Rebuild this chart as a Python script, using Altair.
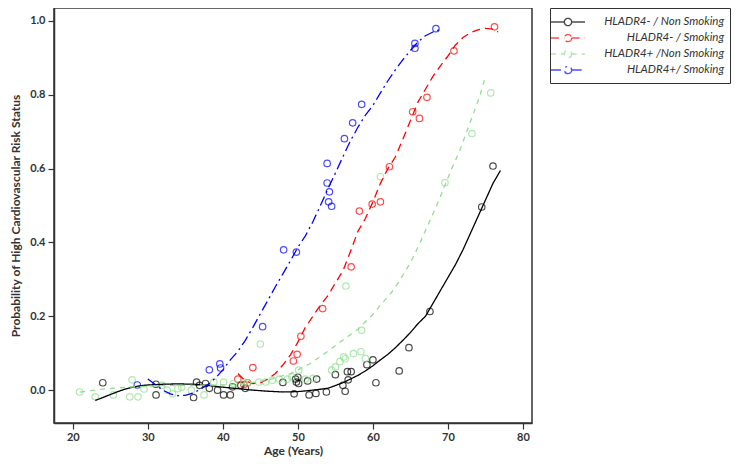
import altair as alt
import pandas as pd

series_names = ["HLADR4- / Non Smoking", "HLADR4- / Smoking", "HLADR4+ /Non Smoking", "HLADR4+/ Smoking"]
series_colors = ["#000000", "#ff0000", "#90e090", "#0000ff"]
series_dashes = [[1, 0], [8, 5], [5, 5], [10, 4, 2, 4]]

# Fitted curves
black_curve_age = [23, 24, 25, 26, 27, 28, 29, 30, 32, 34, 36, 38, 40, 42, 44, 46, 48, 50, 52, 54, 56, 57, 58, 59, 60, 61, 62, 63, 64, 65, 66, 67, 68, 69, 70, 71, 72, 73, 74, 75, 76, 77]
black_curve_p = [-0.028, -0.02, -0.012, -0.004, 0.003, 0.008, 0.012, 0.014, 0.016, 0.017, 0.016, 0.013, 0.008, 0.004, 0.0, -0.003, -0.005, -0.004, 0.0, 0.005, 0.02, 0.03, 0.04, 0.052, 0.066, 0.082, 0.097, 0.115, 0.135, 0.156, 0.18, 0.2, 0.235, 0.27, 0.305, 0.34, 0.38, 0.425, 0.47, 0.515, 0.56, 0.595]

red_curve_age = [42, 43, 44, 45, 46, 47, 48, 49, 50, 51, 52, 53, 54, 55, 56, 57, 58, 59, 60, 61, 62, 63, 64, 65, 66, 67, 68, 69, 70, 71, 72, 73, 74, 75, 76, 76.7]
red_curve_p = [0.045, 0.025, 0.018, 0.02, 0.03, 0.045, 0.068, 0.095, 0.13, 0.17, 0.2, 0.23, 0.256, 0.29, 0.323, 0.375, 0.43, 0.465, 0.51, 0.56, 0.6, 0.632, 0.68, 0.73, 0.78, 0.815, 0.85, 0.878, 0.905, 0.935, 0.955, 0.968, 0.976, 0.98, 0.978, 0.97]

green_curve_age = [21, 24, 28, 32, 36, 40, 43, 46, 49, 51.5, 54, 56.5, 58, 60, 61, 62.5, 63.6, 65, 66.3, 67.5, 68.5, 69.5, 70.5, 71.5, 72.5, 73.5, 74.3, 75]
green_curve_p = [-0.005, 0.003, 0.009, 0.012, 0.013, 0.014, 0.018, 0.027, 0.045, 0.07, 0.105, 0.143, 0.165, 0.205, 0.23, 0.265, 0.298, 0.345, 0.4, 0.455, 0.5, 0.55, 0.6, 0.645, 0.7, 0.755, 0.8, 0.85]

blue_curve_age = [30, 31, 32, 33, 34, 35, 36, 37, 38, 39, 40, 41, 42, 43, 44, 45, 46, 47, 48, 49, 50, 51, 52, 53, 54, 55, 56, 57, 58, 59, 60, 61, 62, 63, 64, 65, 66, 67, 68, 69]
blue_curve_p = [0.03, 0.015, 0.0, -0.01, -0.015, -0.014, -0.008, 0.002, 0.015, 0.032, 0.055, 0.082, 0.105, 0.135, 0.17, 0.207, 0.243, 0.28, 0.315, 0.35, 0.387, 0.418, 0.456, 0.5, 0.545, 0.588, 0.632, 0.675, 0.712, 0.745, 0.771, 0.805, 0.838, 0.868, 0.895, 0.92, 0.943, 0.96, 0.97, 0.977]

black_pt_age = [24.0, 31.1, 31.1, 36.1, 36.5, 36.9, 37.7, 38.2, 39.3, 40.1, 41.0, 41.3, 42.4, 43.0, 48.0, 49.5, 49.7, 49.8, 50.0, 50.1, 51.3, 51.5, 52.4, 52.5, 53.8, 55.0, 56.0, 56.3, 56.7, 56.6, 57.1, 59.2, 60.0, 60.4, 63.5, 64.8, 67.6, 74.5, 76.0]
black_pt_p = [0.020, 0.016, -0.013, -0.020, 0.022, 0.013, 0.018, 0.005, 0.0, -0.013, -0.013, 0.009, 0.013, 0.005, 0.021, -0.010, 0.030, 0.022, 0.035, 0.018, 0.025, -0.013, -0.009, 0.030, -0.005, 0.042, 0.013, -0.003, 0.028, 0.050, 0.050, 0.069, 0.082, 0.020, 0.052, 0.115, 0.213, 0.496, 0.607]

red_pt_age = [42.0, 42.8, 43.3, 44.0, 49.4, 49.9, 50.4, 53.3, 57.1, 58.2, 59.9, 61.0, 62.2, 65.3, 66.2, 67.2, 70.8, 76.2]
red_pt_p = [0.030, 0.015, 0.020, 0.061, 0.079, 0.097, 0.146, 0.221, 0.334, 0.485, 0.504, 0.510, 0.605, 0.754, 0.736, 0.793, 0.919, 0.984]

green_pt_age = [20.9, 23.0, 25.4, 27.9, 27.6, 28.7, 29.5, 31.9, 32.6, 33.3, 34.0, 34.5, 35.8, 37.5, 38.8, 40.1, 41.4, 42.8, 43.3, 44.8, 45.0, 45.7, 46.6, 47.5, 48.6, 49.2, 50.1, 51.0, 52.0, 54.5, 55.0, 55.6, 56.1, 56.3, 56.4, 57.4, 58.4, 58.5, 59.0, 61.0, 69.6, 73.2, 75.7]
green_pt_p = [-0.005, -0.018, -0.013, 0.028, -0.018, -0.018, 0.003, 0.013, 0.0, -0.010, 0.004, 0.008, 0.0, -0.013, 0.022, 0.022, 0.018, 0.022, 0.020, 0.022, 0.125, 0.022, 0.027, 0.030, 0.030, 0.036, 0.054, 0.030, 0.032, 0.054, 0.063, 0.077, 0.090, 0.085, 0.282, 0.099, 0.104, 0.162, 0.086, 0.578, 0.562, 0.695, 0.805]

blue_pt_age = [28.6, 38.2, 39.6, 39.7, 45.3, 48.1, 49.8, 53.9, 53.9, 54.2, 54.1, 54.5, 56.2, 57.3, 58.5, 65.6, 65.6, 68.4]
blue_pt_p = [0.014, 0.055, 0.071, 0.060, 0.172, 0.380, 0.374, 0.614, 0.561, 0.537, 0.510, 0.498, 0.681, 0.724, 0.774, 0.939, 0.926, 0.979]

curves = [(black_curve_age, black_curve_p), (red_curve_age, red_curve_p), (green_curve_age, green_curve_p), (blue_curve_age, blue_curve_p)]
points = [(black_pt_age, black_pt_p), (red_pt_age, red_pt_p), (green_pt_age, green_pt_p), (blue_pt_age, blue_pt_p)]

curve_rows = []
for name, (ages, ps) in zip(series_names, curves):
    for i, (a, p) in enumerate(zip(ages, ps)):
        curve_rows.append({"series": name, "age": a, "p": p, "order": i})
point_rows = []
for name, (ages, ps) in zip(series_names, points):
    for a, p in zip(ages, ps):
        point_rows.append({"series": name, "age": a, "p": p})

curve_df = pd.DataFrame(curve_rows)
point_df = pd.DataFrame(point_rows)

FONT = "Lato"
xscale = alt.Scale(domain=[17.5, 81.2], nice=False, zero=False)
yscale = alt.Scale(domain=[-0.089, 1.035], nice=False, zero=False)
cscale = alt.Scale(domain=series_names, range=series_colors)
dscale = alt.Scale(domain=series_names, range=series_dashes)

xaxis = alt.Axis(values=[20, 30, 40, 50, 60, 70, 80], title="Age (Years)", grid=False,
                 labelPadding=2, titlePadding=3)
yaxis = alt.Axis(values=[0.0, 0.2, 0.4, 0.6, 0.8, 1.0], format=".1f",
                 title="Probability of High Cardiovascular Risk Status", grid=False,
                 labelPadding=3, titlePadding=7)

legend = alt.Legend(title=None, orient="none", legendX=496, legendY=0,
                    symbolType="M-2.5,0H-0.54M0.54,0H2.5M0.54,0A0.54,0.54,0,1,1,-0.54,0A0.54,0.54,0,1,1,0.54,0",
                    symbolSize=185, symbolStrokeWidth=1.4, symbolOffset=4,
                    labelFont=FONT, labelFontSize=11.5, labelFontStyle="italic", labelColor="#333333",
                    labelAlign="right", labelOffset=148, labelLimit=300,
                    strokeColor="#333333", padding=6, rowPadding=1, fillColor="white")

lines = alt.Chart(curve_df).mark_line(strokeWidth=1.3, clip=True).encode(
    x=alt.X("age:Q", scale=xscale, axis=xaxis),
    y=alt.Y("p:Q", scale=yscale, axis=yaxis),
    color=alt.Color("series:N", scale=cscale, legend=legend),
    strokeDash=alt.StrokeDash("series:N", scale=dscale, legend=None),
    order="order:Q",
)

pts = alt.Chart(point_df).mark_point(shape="circle", filled=False, size=42, strokeWidth=1.2, clip=True).encode(
    x=alt.X("age:Q", scale=xscale),
    y=alt.Y("p:Q", scale=yscale),
    color=alt.Color("series:N", scale=cscale, legend=legend),
)

chart = alt.layer(pts, lines).properties(
    width=478, height=415,
    autosize=alt.AutoSizeParams(type="none"),
    padding={"left": 46, "top": 0, "right": 204, "bottom": 36},
).configure_view(
    stroke="#333333", strokeWidth=1.5
).configure_axis(
    labelFont=FONT, titleFont=FONT, labelFontSize=11, titleFontSize=12,
    labelFontWeight="bold", titleFontWeight="bold", labelColor="#333333", titleColor="#333333",
    domainColor="#333333", tickColor="#333333", tickSize=6, domainWidth=1.5, tickWidth=1.2,
)

chart.save("out.html", embed_options={"renderer": "svg", "actions": False})
